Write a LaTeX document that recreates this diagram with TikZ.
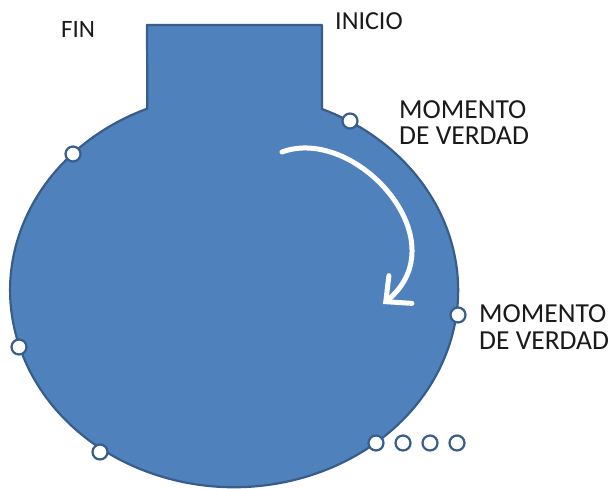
\documentclass[tikz,border=0pt]{standalone}
\usepackage{fontspec}
\setmainfont{Carlito}
\usetikzlibrary{arrows.meta}
\definecolor{shapefill}{HTML}{4F81BD}
\definecolor{shapeline}{HTML}{385D8A}
\definecolor{labeltext}{HTML}{1A1A1A}
\tikzset{
  body/.style={fill=shapefill, draw=shapeline, line width=2.2pt, line join=round},
  moment/.style={circle, fill=white, draw=shapeline, line width=2.2pt, minimum size=15pt, inner sep=0pt},
  label/.style={anchor=base west, inner sep=0pt, text=labeltext, font=\fontsize{26}{26}\selectfont},
  mlabel/.style={label, align=left, font=\fontsize{27.5}{26}\selectfont},
  flow/.style={draw=white, line width=5pt, line cap=round, -{Straight Barb[length=19pt, width=36pt, line cap=round]}}
}
\begin{document}
\begin{tikzpicture}[x=1pt, y=-1pt]
\useasboundingbox (0,0) rectangle (615,489);
% body: rectangle on top of an ellipse
\path[body] (147,25) -- (322,25) -- (322,109)
  arc[start angle=-66.9, end angle=247.2, x radius=224, y radius=197] -- cycle;
% curved arrow
\coordinate (a0) at (282,152);
\coordinate (a1) at (383,304);
\draw[flow] (a0) .. controls (355,125) and (460,240) .. (a1);
% moments
\node[moment] (m1) at (350,121) {};
\node[moment] (m2) at (458,315) {};
\node[moment] (m3) at (376,443) {};
\node[moment] (m4) at (403,443) {};
\node[moment] (m5) at (430,443) {};
\node[moment] (m6) at (457,443) {};
\node[moment] (m7) at (100,452) {};
\node[moment] (m8) at (19,347) {};
\node[moment] (m9) at (73,154) {};
% labels
\node[label, font=\fontsize{25}{25}\selectfont] (fin) at (61,38) {FIN};
\node[label] (inicio) at (335,30) {INICIO};
\node[mlabel] (mv1) at (399,145) {MOMENTO\\DE VERDAD};
\node[mlabel, font=\fontsize{27.5}{27}\selectfont] (mv2) at (479,349) {MOMENTO\\DE VERDAD};
\end{tikzpicture}
\end{document}
